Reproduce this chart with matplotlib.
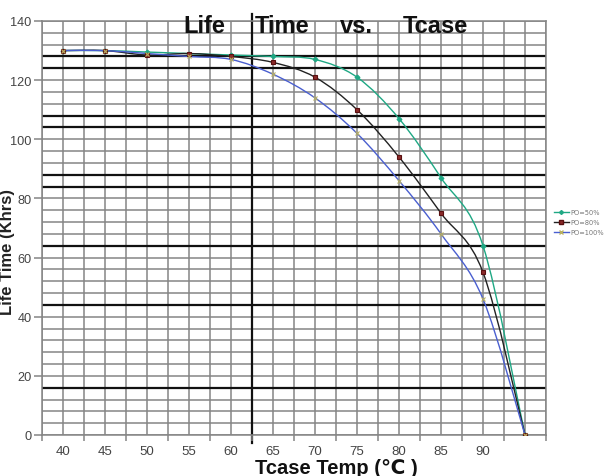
import matplotlib
matplotlib.use('Agg')
import matplotlib.pyplot as plt
from matplotlib.path import Path
from matplotlib.patches import PathPatch
from matplotlib.lines import Line2D
import numpy as np

# ---- data ----
temps = ['40', '45', '50', '55', '60', '65', '70', '75', '80', '85', '90', '']
po50 = [130, 130, 129.5, 129, 128.5, 128, 127, 121, 107, 87, 64, 0]
po80 = [130, 130, 128.5, 129, 128, 126, 121, 110, 94, 75, 55, 0]
po100 = [130, 130, 129, 128, 127, 122, 114, 102, 86, 68, 46, 0]
yticks = [0, 20, 40, 60, 80, 100, 120, 140]
heavy_rows = [16, 44, 64, 84, 88, 104, 108, 124, 128]
series_labels = ['PO=50%', 'PO=80%', 'PO=100%']
title_words = ['Life', 'Time', 'vs.', 'Tcase']

W, H = 611, 477
fig = plt.figure(figsize=(W / 100, H / 100), dpi=100)
ax = fig.add_axes([42 / W, 1 - 436 / H, (546 - 42) / W, (436 - 22) / H])
x = np.arange(len(temps))
ax.set_xlim(-0.5, len(temps) - 0.5)
ax.set_ylim(0, 140)

grid_c = '#858585'
# grid
for v in np.arange(-0.5, len(temps) - 0.49, 0.5):
    ax.axvline(v, color=grid_c, lw=1.1, zorder=0)
for h in range(0, 141, 4):
    ax.axhline(h, color=grid_c, lw=1.1, zorder=0)
for h in heavy_rows:
    ax.axhline(h, color='#111111', lw=1.6, zorder=0.5)
ax.plot([4.5, 4.5], [142.2, -2.7], color='#111111', lw=1.6, clip_on=False, zorder=0.6)

for s in ax.spines.values():
    s.set_color(grid_c)
    s.set_linewidth(1.1)


def smooth_path(xs, ys):
    pts = list(zip(xs, ys))
    verts = [pts[0]]
    codes = [Path.MOVETO]
    n = len(pts)
    for i in range(n - 1):
        p0 = pts[i - 1] if i > 0 else pts[i]
        p1 = pts[i]
        p2 = pts[i + 1]
        p3 = pts[i + 2] if i + 2 < n else pts[i + 1]
        c1 = (p1[0] + (p2[0] - p0[0]) / 6, p1[1] + (p2[1] - p0[1]) / 6)
        c2 = (p2[0] - (p3[0] - p1[0]) / 6, p2[1] - (p3[1] - p1[1]) / 6)
        verts += [c1, c2, p2]
        codes += [Path.CURVE4] * 3
    return Path(verts, codes)


styles = [
    (po50, '#1fa884', 'D', '#1fa884', '#1fa884', 2.5),
    (po80, '#222222', 's', '#8b2a2a', '#5a1010', 3.5),
    (po100, '#4a5fd0', 'x', '#b8b060', '#b8b060', 3.5),
]
for data, lc, mk, mfc, mec, ms in styles:
    ax.add_patch(PathPatch(smooth_path(x, data), fill=False, edgecolor=lc, lw=1.0, zorder=2))
for data, lc, mk, mfc, mec, ms in styles:
    ax.plot(x, data, linestyle='none', marker=mk, ms=ms, mfc=mfc, mec=mec, mew=0.8, zorder=3)

# ticks
ax.set_yticks(yticks)
ax.set_yticklabels([str(v) for v in yticks])
ax.set_xticks(x)
ax.set_xticklabels(temps)
ax.set_xticks(np.arange(-0.5, len(temps), 1), minor=True)
tick_font = ['Liberation Sans Narrow', 'Liberation Sans']
ax.tick_params(axis='x', which='major', length=0, pad=7, labelsize=9.5, labelcolor='#444444')
ax.tick_params(axis='x', which='minor', length=4, color=grid_c, width=1.1)
ax.tick_params(axis='y', which='major', length=6, pad=1.5, color=grid_c, width=1.1,
               labelsize=9.2, labelcolor='#444444')
for lab in ax.get_xticklabels() + ax.get_yticklabels():
    lab.set_family(tick_font)

# title words
title_x = [183, 255, 340, 403]
for w, px in zip(title_words, title_x):
    fig.text(px / W, 1 - 33 / H, w, fontsize=17, fontweight='bold', ha='left',
             va='baseline', family=['Liberation Sans', 'DejaVu Sans'], color='#111111')

fig.text(336 / W, 1 - 474 / H, 'Tcase Temp (\u2103 )', fontsize=14.5, fontweight='bold',
         ha='center', va='baseline', family=['Liberation Sans', 'DejaVu Sans'], color='#111111')
fig.text(8 / W, 1 - 252 / H, 'Life Time (Khrs)', fontsize=12, fontweight='bold', rotation=90,
         ha='center', va='center', family=['Liberation Sans', 'DejaVu Sans'], color='#222222')

handles = [Line2D([], [], color=lc, lw=1.0, marker=mk, ms=ms * 0.8, mfc=mfc, mec=mec)
           for data, lc, mk, mfc, mec, ms in styles]
leg = fig.legend(handles, series_labels, loc='center left', bbox_to_anchor=(554 / W, 1 - 223 / H),
                 fontsize=4.8, handlelength=2.2, handletextpad=0.3, labelspacing=0.6,
                 frameon=False, borderpad=0, borderaxespad=0)
for t in leg.get_texts():
    t.set_color('#777777')

fig.savefig('out.png', dpi=100)
